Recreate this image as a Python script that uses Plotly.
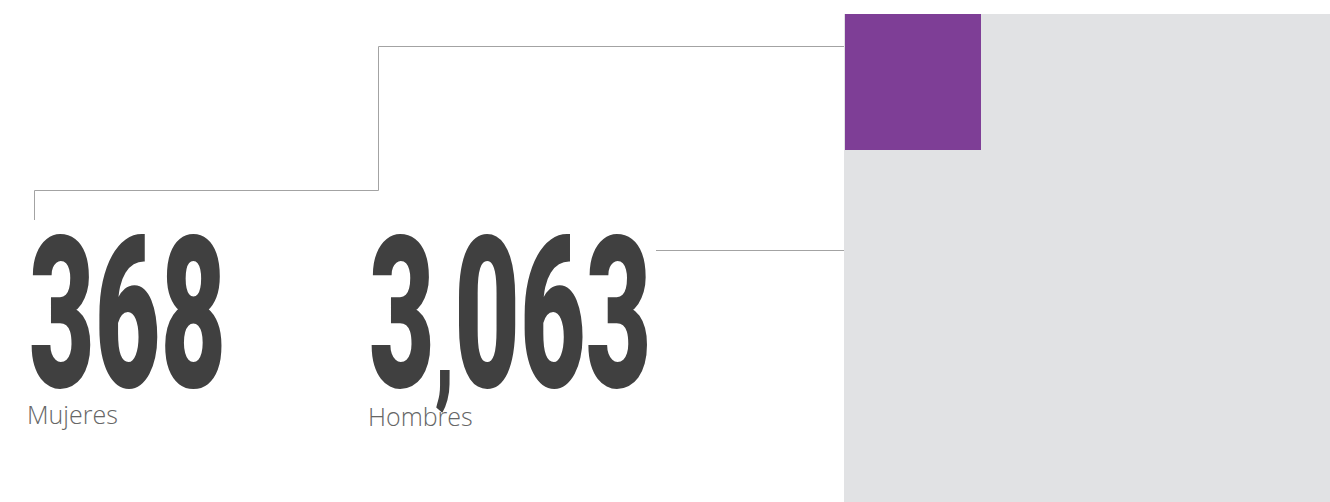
import math
import plotly.graph_objects as go

# ---- data ----
categories = ["Mujeres", "Hombres"]
values = [368, 3063]

# ---- styling ----
W, H = 1330, 502
num_color = "#404040"
lab_color = "#666666"
line_color = "#a3a3a3"
purple = "#7e3e96"
grey = "#e1e2e4"
NUM_SIZE = 212
COMMA_SIZE = 135
NUM_SX = 0.535  # horizontal condensing of the big numbers

fig = go.Figure()

px0, py0 = 844, 14
# side of highlighted square from an area scale
K = 136 / math.sqrt(368)
side = K * math.sqrt(values[0])

shapes = [
    dict(type="rect", xref="x", yref="y", x0=px0, x1=W + 20, y0=py0, y1=H + 20,
         fillcolor=grey, line=dict(width=0), layer="below"),
    dict(type="rect", xref="x", yref="y", x0=px0 + 1, x1=px0 + 1 + side, y0=py0, y1=py0 + side,
         fillcolor=purple, line=dict(width=0)),
    dict(type="path", xref="x", yref="y",
         path=f"M 34.5 220 L 34.5 190.5 L 378.5 190.5 L 378.5 46.5 L {px0} 46.5",
         line=dict(color=line_color, width=1)),
    dict(type="line", xref="x", yref="y", x0=656, x1=px0, y0=250.5, y1=250.5,
         line=dict(color=line_color, width=1)),
]

num_x = [27, 367]
lab_x = [25, 366]
lab_y = [414, 416]


def fmt(v):
    s = f"{v:,}"
    return s.replace(",", f"<span style='font-size:{COMMA_SIZE}px'>,</span>")


annotations = []
for i, v in enumerate(values):
    annotations.append(dict(
        x=num_x[i], y=314, xref="x", yref="y", xanchor="left", yanchor="middle",
        text=fmt(v), showarrow=False,
        font=dict(family="Roboto, Lato, Inter, sans-serif", size=NUM_SIZE,
                  color=num_color, weight=900)))
for i, c in enumerate(categories):
    annotations.append(dict(
        x=lab_x[i], y=lab_y[i], xref="x", yref="y", xanchor="left", yanchor="middle",
        text=c, showarrow=False,
        font=dict(family="Open Sans", size=25, color=lab_color, weight=300)))

fig.update_layout(
    width=W, height=H,
    margin=dict(l=0, r=0, t=0, b=0),
    paper_bgcolor="white", plot_bgcolor="white",
    xaxis=dict(range=[0, W], visible=False, fixedrange=True),
    yaxis=dict(range=[H, 0], visible=False, fixedrange=True),
    shapes=shapes, annotations=annotations, showlegend=False,
)

post = """
document.body.style.margin = '0';
document.body.style.overflow = 'hidden';
var gd = document.getElementById('{plot_id}');
var n = %d, sx = %f;
gd.querySelectorAll('g.annotation').forEach(function(a){
  var idx = parseInt(a.getAttribute('data-index'));
  if (isNaN(idx) || idx >= n) return;
  var t = a.querySelector('text.annotation-text');
  if (!t) return;
  var b = t.getBBox();
  var prev = t.getAttribute('transform') || '';
  t.setAttribute('transform', prev + ' translate(' + b.x + ',0) scale(' + sx + ',1) translate(' + (-b.x) + ',0)');
});
""" % (len(values), NUM_SX)

fig.write_html("out.html", config={"displayModeBar": False, "staticPlot": True}, post_script=post)
